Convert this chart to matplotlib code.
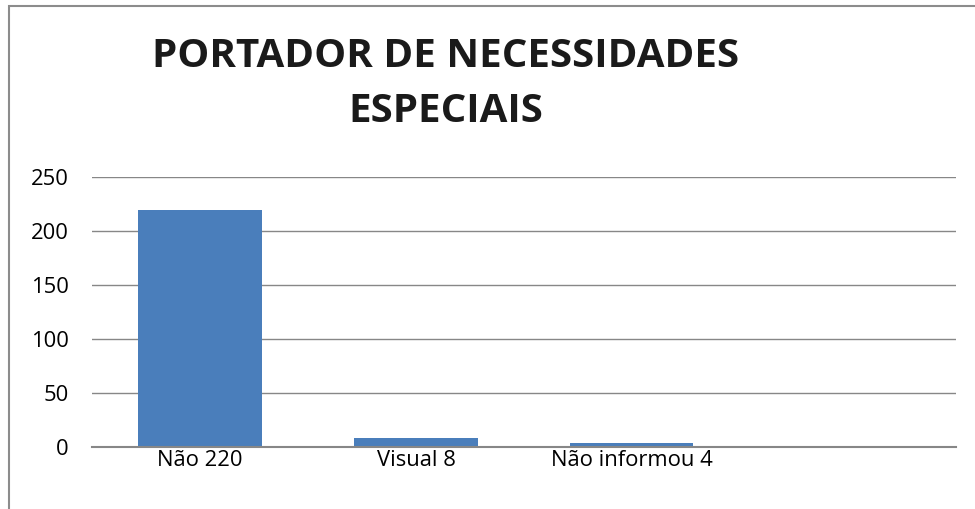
import matplotlib
matplotlib.use("Agg")
import matplotlib.pyplot as plt
from matplotlib.patches import Rectangle

categories = ["Não 220", "Visual 8", "Não informou 4", ""]
values = [220, 8, 4, 0]
yticks = [0, 50, 100, 150, 200, 250]

plt.rcParams["font.family"] = ["Open Sans", "DejaVu Sans"]

fig = plt.figure(figsize=(9.75, 5.09), dpi=100)
ax = fig.add_axes([0.0944, 0.1218, 0.886, 0.5302])

x = range(len(categories))
ax.bar(list(x)[:3], values[:3], width=0.57, color="#4a7ebb")
ax.set_xlim(-0.5, len(categories) - 0.5)
ax.set_ylim(0, 250)
ax.set_yticks(yticks)
ax.set_xticks(list(x))
ax.set_xticklabels(categories, fontsize=15.8)
ax.tick_params(axis="y", labelsize=15.8, length=0, pad=17)
ax.tick_params(axis="x", length=0, pad=2)
ax.grid(axis="y", color="#878787", linewidth=1)
ax.set_axisbelow(True)
for s in ["top", "right", "left"]:
    ax.spines[s].set_visible(False)
ax.spines["bottom"].set_color("#878787")
ax.spines["bottom"].set_linewidth(1.5)

fig.text(0.457, 0.835, "PORTADOR DE NECESSIDADES\nESPECIAIS", ha="center", va="center",
         fontsize=29, fontweight="bold", color="#1a1a1a", linespacing=1.55)

# outer chart frame (only top/left visible in the crop)
fig.add_artist(Rectangle((9 / 975, -0.1), 1.2, 1.1 - 6 / 509, transform=fig.transFigure,
                         fill=False, edgecolor="#8c8c8c", linewidth=1.5))

fig.savefig("out.png", dpi=100)
plt.close(fig)
